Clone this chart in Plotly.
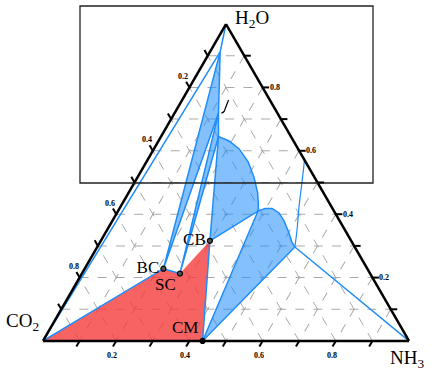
import math
import plotly.graph_objects as go

# ---------------- data (mass fractions: H2O, CO2, NH3) ----------------
tick_values = [0.1, 0.2, 0.3, 0.4, 0.5, 0.6, 0.7, 0.8, 0.9]
tick_labels = ['', '0.2', '', '0.4', '', '0.6', '', '0.8', '']

vertex_names = ['H<sub>2</sub>O', 'CO<sub>2</sub>', 'NH<sub>3</sub>']
vertex_h2o = [1.0, 0.0, 0.0]
vertex_co2 = [0.0, 1.0, 0.0]
vertex_nh3 = [0.0, 0.0, 1.0]

# solid compounds
solid_names = ['BC', 'SC', 'CB', 'CM']
solid_h2o = [0.228, 0.213, 0.316, 0.000]
solid_co2 = [0.557, 0.520, 0.386, 0.564]
solid_nh3 = [0.215, 0.268, 0.298, 0.436]

# invariant liquid points P1..P5
liq_h2o = [0.912, 0.719, 0.645, 0.410, 0.2965]
liq_co2 = [0.060, 0.161, 0.198, 0.2075, 0.1635]
liq_nh3 = [0.028, 0.120, 0.157, 0.3825, 0.540]

# liquidus curve P3 -> P4 (carbonate field)
arcC_h2o = [0.645, 0.631, 0.606, 0.565, 0.517, 0.467, 0.429, 0.410]
arcC_co2 = [0.198, 0.176, 0.161, 0.157, 0.165, 0.180, 0.197, 0.2075]
arcC_nh3 = [0.157, 0.193, 0.233, 0.278, 0.318, 0.353, 0.374, 0.3825]

# liquidus curve P4 -> P5 (carbamate field)
arcD_h2o = [0.410, 0.418, 0.418, 0.404, 0.379, 0.344, 0.312, 0.2965]
arcD_co2 = [0.2075, 0.184, 0.165, 0.153, 0.152, 0.157, 0.164, 0.1635]
arcD_nh3 = [0.3825, 0.398, 0.417, 0.443, 0.469, 0.499, 0.524, 0.540]

# boundary curve from P5 up to the NH3-H2O edge
curveF_h2o = [0.2965, 0.350, 0.423, 0.486, 0.539, 0.571]
curveF_co2 = [0.1635, 0.131, 0.089, 0.051, 0.019, 0.000]
curveF_nh3 = [0.540, 0.519, 0.488, 0.463, 0.442, 0.429]

# small pointer mark near P2
mark_h2o = [0.760, 0.735, 0.724, 0.719]
mark_co2 = [0.113, 0.134, 0.1435, 0.153]
mark_nh3 = [0.127, 0.131, 0.1325, 0.128]

# ---------------- styling / geometry ----------------
BLUE = 'rgb(30,140,250)'
BLUE_FILL = 'rgba(30,140,250,0.55)'
RED_FILL = 'rgba(245,60,60,0.80)'
SERIF = 'Liberation Serif'
FW, FH = 434, 375
DOM_X = [0.0991, 0.9424]
DOM_Y = [0.0907, 0.936]

# triangle placement exactly as plotly fits it in the domain
wmax = (DOM_X[1] - DOM_X[0]) * FW
hmax = (DOM_Y[1] - DOM_Y[0]) * FH
w = min(wmax, hmax * 2 / math.sqrt(3))
h = w * math.sqrt(3) / 2
cx = FW * (DOM_X[0] + DOM_X[1]) / 2
cy = FH * (1 - (DOM_Y[0] + DOM_Y[1]) / 2)
xL, xR, xM = cx - w / 2, cx + w / 2, cx
yB, yT = cy + h / 2, cy - h / 2


def paper(x, y):
    return x / FW, 1 - y / FH


S = dict(zip(solid_names, zip(solid_h2o, solid_co2, solid_nh3)))
P = [tuple(v) for v in zip(liq_h2o, liq_co2, liq_nh3)]
V = [tuple(v) for v in zip(vertex_h2o, vertex_co2, vertex_nh3)]


def tr(pts, **kw):
    return go.Scatterternary(a=[p[0] for p in pts], b=[p[1] for p in pts],
                             c=[p[2] for p in pts], hoverinfo='skip', **kw)


fig = go.Figure()

# red all-solid region
fig.add_trace(tr([V[1], S['BC'], S['SC'], S['CB'], S['CM'], V[1]], mode='lines',
                 fill='toself', fillcolor=RED_FILL, line=dict(width=0, color=RED_FILL)))

# BC + L fan
fig.add_trace(tr([S['BC'], P[0], P[1], S['BC']], mode='lines', fill='toself',
                 fillcolor=BLUE_FILL, line=dict(color=BLUE, width=1.5)))
# SC + L fan
fig.add_trace(tr([S['SC'], P[1], P[2], S['SC']], mode='lines', fill='toself',
                 fillcolor=BLUE_FILL, line=dict(color=BLUE, width=1.5)))
# CB + L fan
arcC = list(zip(arcC_h2o, arcC_co2, arcC_nh3))
fig.add_trace(tr([S['CB']] + arcC + [S['CB']], mode='lines', fill='toself',
                 fillcolor=BLUE_FILL, line=dict(color=BLUE, width=1.5)))
# CM + L fan
arcD = list(zip(arcD_h2o, arcD_co2, arcD_nh3))
fig.add_trace(tr([S['CM']] + arcD + [S['CM']], mode='lines', fill='toself',
                 fillcolor=BLUE_FILL, line=dict(color=BLUE, width=1.5)))

# boundary lines
for seg in ([V[1], P[0]], [V[0], P[0]], [V[1], S['BC'], S['SC']],
            [S['CB'], S['CM']], [P[4], V[2]]):
    fig.add_trace(tr(seg, mode='lines', line=dict(color=BLUE, width=1.5)))
fig.add_trace(tr(list(zip(curveF_h2o, curveF_co2, curveF_nh3)), mode='lines',
                 line=dict(color=BLUE, width=1.2, shape='spline')))

# pointer mark
fig.add_trace(tr(list(zip(mark_h2o, mark_co2, mark_nh3)), mode='lines',
                 line=dict(color='black', width=1.2, shape='spline')))

# solid points + labels
label_pos = ['middle left', 'bottom left', 'middle left', 'top left']
fig.add_trace(go.Scatterternary(
    a=solid_h2o, b=solid_co2, c=solid_nh3, mode='markers+text', text=solid_names,
    textposition=label_pos, cliponaxis=False, hoverinfo='skip',
    textfont=dict(family=SERIF, size=17, color='black'),
    marker=dict(size=5, color=['#555', '#555', '#555', 'black'],
                line=dict(color='black', width=1.2))))

# ---------------- axes: ticks (every 0.1) and labels, counter-clockwise ----------
shapes = [dict(type='rect', xref='paper', yref='paper', x0=80 / FW, x1=373 / FW,
               y0=1 - 183 / FH, y1=1 - 6 / FH, line=dict(color='#222', width=1.3))]
annotations = []
TL = 6.5
edges = [
    # (start vertex, end vertex, tick direction, label shift)
    ((xL, yB), (xR, yB), (-0.5, 0.866), (-4, -15)),     # NH3 fraction along bottom
    ((xR, yB), (xM, yT), (1.0, 0.0), (12, 0)),          # H2O fraction along right
    ((xM, yT), (xL, yB), (-0.5, -0.866), (-6, 11)),     # CO2 fraction along left
]
for (x0, y0), (x1, y1), (dx, dy), (sx, sy) in edges:
    for v, lab in zip(tick_values, tick_labels):
        px, py = x0 + v * (x1 - x0), y0 + v * (y1 - y0)
        ax0, ay0 = paper(px, py)
        ax1, ay1 = paper(px + dx * TL, py + dy * TL)
        shapes.append(dict(type='line', xref='paper', yref='paper', x0=ax0, y0=ay0,
                           x1=ax1, y1=ay1, line=dict(color='black', width=2)))
        if lab:
            annotations.append(dict(x=ax0, y=ay0, xref='paper', yref='paper', text=lab,
                                    showarrow=False, xanchor='center', yanchor='middle',
                                    xshift=sx, yshift=sy,
                                    font=dict(family=SERIF, size=8, color='black',
                                              weight='bold')))

# vertex labels
vertex_px = [(xM, yT), (xL, yB), (xR, yB)]
vertex_anchor = [('left', 7, 5), ('right', -2, 19), ('center', -2, -18)]
for name, (vx, vy), (xa, sx, sy) in zip(vertex_names, vertex_px, vertex_anchor):
    px_, py_ = paper(vx, vy)
    annotations.append(dict(x=px_, y=py_, xref='paper', yref='paper', text=name,
                            showarrow=False, xanchor=xa, yanchor='middle',
                            xshift=sx, yshift=sy,
                            font=dict(family=SERIF, size=19, color='black')))

axis = dict(title=dict(text=''), tickmode='array', tickvals=tick_values,
            showticklabels=False, ticks='', linecolor='black', linewidth=2.5,
            showgrid=True, gridcolor='#a9a9a9', gridwidth=1, griddash='dash', min=0,
            layer='above traces')

fig.update_layout(
    width=FW, height=FH, margin=dict(l=0, r=0, t=0, b=0),
    paper_bgcolor='white', showlegend=False,
    ternary=dict(domain=dict(x=DOM_X, y=DOM_Y),
                 bgcolor='white', sum=1, aaxis=axis, baxis=axis, caxis=axis),
    shapes=shapes, annotations=annotations,
)

fig.write_html("out.html")
